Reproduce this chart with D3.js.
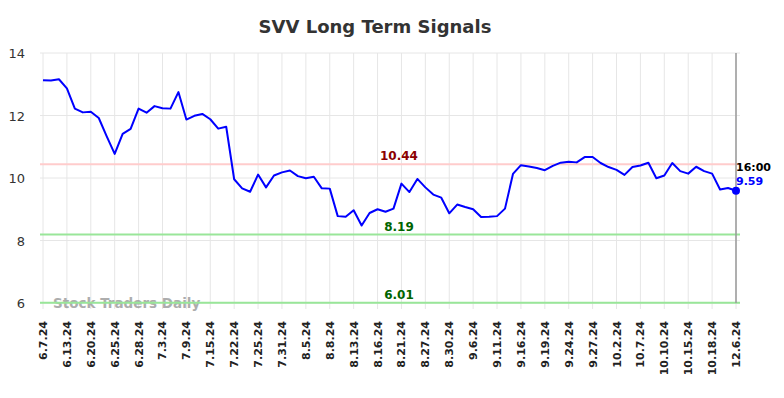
<!DOCTYPE html>
<html>
<head>
<meta charset="utf-8">
<script src="https://cdn.jsdelivr.net/npm/d3@7"></script>
<style>
  body { margin: 0; background: #fff; }
  svg { display: block; font-family: "DejaVu Sans", sans-serif; }
</style>
</head>
<body>
<div id="chart"></div>
<script>
// chart data
var prices = [
  13.13, 13.12, 13.16, 12.87, 12.22, 12.10, 12.12, 11.92, 11.33, 10.77,
  11.41, 11.57, 12.22, 12.09, 12.30, 12.23, 12.22, 12.75, 11.87, 11.99,
  12.05, 11.88, 11.58, 11.64, 9.96, 9.67, 9.56, 10.11, 9.70, 10.08,
  10.18, 10.24, 10.06, 9.99, 10.04, 9.67, 9.66, 8.78, 8.76, 8.97,
  8.48, 8.88, 9.00, 8.92, 9.02, 9.82, 9.55, 9.97, 9.70, 9.47,
  9.37, 8.87, 9.15, 9.07, 9.00, 8.75, 8.76, 8.78, 9.02, 10.13,
  10.41, 10.37, 10.32, 10.25, 10.39, 10.49, 10.52, 10.50, 10.67, 10.67,
  10.48, 10.35, 10.26, 10.10, 10.35, 10.40, 10.49, 9.99, 10.08, 10.48,
  10.22, 10.14, 10.36, 10.22, 10.14, 9.63, 9.68, 9.59
];

var tickLabels = [
  "6.7.24", "6.13.24", "6.20.24", "6.25.24", "6.28.24", "7.3.24", "7.9.24",
  "7.15.24", "7.22.24", "7.25.24", "7.31.24", "8.5.24", "8.8.24", "8.13.24",
  "8.16.24", "8.21.24", "8.27.24", "8.30.24", "9.6.24", "9.11.24", "9.16.24",
  "9.19.24", "9.24.24", "9.27.24", "10.2.24", "10.7.24", "10.10.24",
  "10.15.24", "10.18.24", "12.6.24"
];
var tickEvery = 3;

var yTicks = [6, 8, 10, 12, 14];

var levels = [10.44, 8.19, 6.01];
var levelKinds = ["resistance", "support", "support"];

var lastTime = "16:00";

// layout (plot box in page pixels)
var W = 784, H = 398;
var pLeft = 43, pRight = 736, pTop = 53, pBottom = 303;

var x = d3.scaleLinear().domain([0, prices.length - 1]).range([pLeft, pRight]);
var y = d3.scaleLinear().domain([6, 14]).range([pBottom, pTop]);

var svg = d3.select("#chart").append("svg")
  .attr("width", W)
  .attr("height", H);

// title
svg.append("text")
  .attr("x", 375)
  .attr("y", 33)
  .attr("text-anchor", "middle")
  .style("font-size", "18px")
  .style("font-weight", "bold")
  .style("fill", "#333")
  .text("SVV Long Term Signals");

// grid
var tickIdx = tickLabels.map(function (d, i) { return i * tickEvery; });

svg.append("g").selectAll("line")
  .data(tickIdx)
  .enter().append("line")
  .attr("x1", function (d) { return x(d); })
  .attr("x2", function (d) { return x(d); })
  .attr("y1", pTop)
  .attr("y2", pBottom + 6)
  .style("stroke", "#e6e6e6")
  .style("stroke-width", 1);

svg.append("g").selectAll("line")
  .data(yTicks)
  .enter().append("line")
  .attr("x1", 40)
  .attr("x2", 740)
  .attr("y1", function (d) { return y(d); })
  .attr("y2", function (d) { return y(d); })
  .style("stroke", "#e6e6e6")
  .style("stroke-width", 1);

// y labels
svg.append("g").selectAll("text")
  .data(yTicks)
  .enter().append("text")
  .attr("x", 25)
  .attr("y", function (d) { return y(d) + 5; })
  .attr("text-anchor", "end")
  .style("font-size", "13px")
  .style("fill", "#333")
  .text(function (d) { return d; });

// x labels (rotated)
svg.append("g").selectAll("text")
  .data(tickLabels)
  .enter().append("text")
  .attr("transform", function (d, i) {
    return "translate(" + (x(i * tickEvery) + 4) + "," + 321 + ") rotate(-90)";
  })
  .attr("text-anchor", "end")
  .style("font-size", "11px")
  .style("font-weight", "bold")
  .style("fill", "#222")
  .text(function (d) { return d; });

// watermark
svg.append("text")
  .attr("x", 53)
  .attr("y", 308)
  .style("font-size", "13.5px")
  .style("font-weight", "bold")
  .style("fill", "#999")
  .style("opacity", 0.8)
  .text("Stock Traders Daily");

// signal levels
svg.append("g").selectAll("line")
  .data(levels)
  .enter().append("line")
  .attr("x1", 40)
  .attr("x2", 740)
  .attr("y1", function (d) { return y(d); })
  .attr("y2", function (d) { return y(d); })
  .style("stroke", function (d, i) { return levelKinds[i] === "resistance" ? "#ffcccc" : "#99e699"; })
  .style("stroke-width", 2);

svg.append("g").selectAll("text")
  .data(levels)
  .enter().append("text")
  .attr("x", 399)
  .attr("y", function (d) { return y(d) - 4; })
  .attr("text-anchor", "middle")
  .style("font-size", "12px")
  .style("font-weight", "bold")
  .style("fill", function (d, i) { return levelKinds[i] === "resistance" ? "#8b0000" : "#006400"; })
  .text(function (d) { return d.toFixed(2); });

// marker for last session
var lastI = prices.length - 1;
svg.append("line")
  .attr("x1", x(lastI)).attr("x2", x(lastI))
  .attr("y1", pTop).attr("y2", pBottom)
  .style("stroke", "#999")
  .style("stroke-width", 1.5);

// price line
var line = d3.line()
  .x(function (d, i) { return x(i); })
  .y(function (d) { return y(d); });

svg.append("path")
  .datum(prices)
  .attr("d", line)
  .style("fill", "none")
  .style("stroke", "#0000ff")
  .style("stroke-width", 2)
  .style("stroke-linejoin", "round");

svg.append("circle")
  .attr("cx", x(lastI))
  .attr("cy", y(prices[lastI]))
  .attr("r", 4)
  .style("fill", "#0000ff");

svg.append("text")
  .attr("x", x(lastI))
  .attr("y", 171)
  .style("font-size", "11px")
  .style("font-weight", "bold")
  .style("fill", "#000")
  .text(lastTime);

svg.append("text")
  .attr("x", x(lastI))
  .attr("y", 185)
  .style("font-size", "11px")
  .style("font-weight", "bold")
  .style("fill", "#0000ff")
  .text(prices[lastI].toFixed(2));
</script>
</body>
</html>
